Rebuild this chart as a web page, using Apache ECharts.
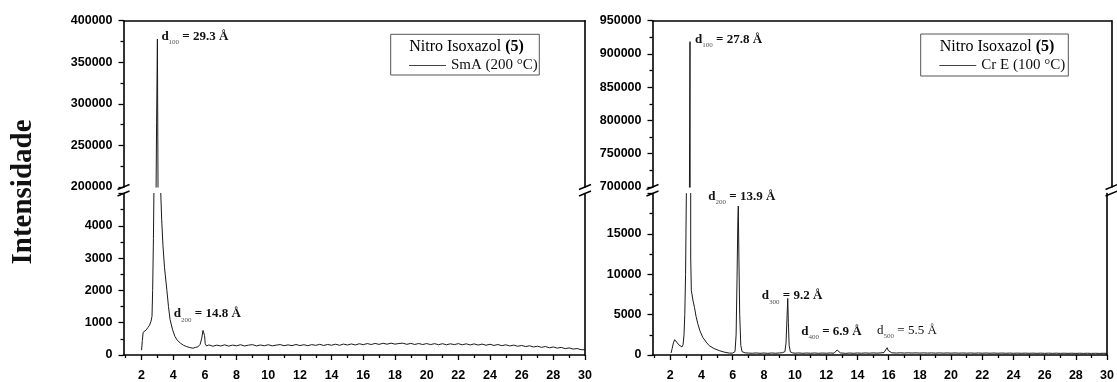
<!DOCTYPE html>
<html>
<head>
<meta charset="utf-8">
<title>Nitro Isoxazol (5) – XRD</title>
<script src="https://cdn.jsdelivr.net/npm/echarts@6/dist/echarts.min.js"></script>
<style>
  html, body { margin: 0; padding: 0; background: #fff; }
  #chart { width: 1117px; height: 382px; }
</style>
</head>
<body>
<div id="chart"></div>
<script>
// ---------------------------------------------------------------------------
// Data: X-ray diffraction patterns of Nitro Isoxazol (5), intensity vs 2θ (°)
// ---------------------------------------------------------------------------
const smaName = 'SmA (200 °C)';
const crName = 'Cr E (100 °C)';
const compoundName = 'Nitro Isoxazol ';
const compoundNumber = '(5)';
const yTitle = 'Intensidade';

const thetaMajorTicks = [2, 4, 6, 8, 10, 12, 14, 16, 18, 20, 22, 24, 26, 28, 30];
const thetaMinorTicks = [1, 3, 5, 7, 9, 11, 13, 15, 17, 19, 21, 23, 25, 27, 29];

// [2θ, intensity] – SmA phase at 200 °C
const smaPattern = [
  [2.00, 150], [2.05, 450], [2.10, 700], [2.20, 730], [2.30, 780], [2.40, 850],
  [2.50, 920], [2.60, 1050], [2.66, 1200], [2.70, 2000], [2.75, 3600], [2.80, 6000],
  [2.85, 30000], [2.95, 278000], [3.00, 378000], [3.05, 150000], [3.12, 20000],
  [3.20, 5200], [3.27, 4200], [3.35, 3400], [3.45, 2700], [3.60, 2000], [3.70, 1500],
  [3.80, 1100], [3.95, 800], [4.10, 580], [4.25, 460], [4.45, 370], [4.65, 300],
  [4.85, 260], [5.05, 230], [5.25, 210], [5.40, 235], [5.55, 250], [5.70, 330],
  [5.80, 520], [5.88, 760], [5.93, 820], [5.98, 600], [6.02, 350], [6.10, 280],
  [6.25, 312], [6.50, 272], [6.75, 305], [7.00, 280], [7.25, 315], [7.50, 276],
  [7.75, 306], [8.00, 284], [8.25, 318], [8.50, 279], [8.75, 304], [9.00, 322],
  [9.25, 282], [9.50, 310], [9.75, 286], [10.00, 318], [10.25, 283], [10.50, 306],
  [10.75, 322], [11.00, 288], [11.25, 313], [11.50, 290], [11.75, 325], [12.00, 292],
  [12.25, 318], [12.50, 288], [12.75, 322], [13.00, 298], [13.25, 330], [13.50, 295],
  [13.75, 326], [14.00, 302], [14.25, 334], [14.50, 300], [14.75, 338], [15.00, 310],
  [15.25, 342], [15.50, 312], [15.75, 348], [16.00, 320], [16.25, 354], [16.50, 325],
  [16.75, 358], [17.00, 328], [17.25, 364], [17.50, 334], [17.75, 368], [18.00, 336],
  [18.25, 356], [18.50, 366], [18.75, 330], [19.00, 360], [19.25, 326], [19.50, 356],
  [19.75, 324], [20.00, 354], [20.25, 322], [20.50, 352], [20.75, 318], [21.00, 350],
  [21.25, 316], [21.50, 346], [21.75, 322], [22.00, 352], [22.25, 316], [22.50, 346],
  [22.75, 312], [23.00, 344], [23.25, 308], [23.50, 338], [23.75, 302], [24.00, 332],
  [24.25, 296], [24.50, 324], [24.75, 288], [25.00, 316], [25.25, 280], [25.50, 306],
  [25.75, 270], [26.00, 296], [26.25, 260], [26.50, 286], [26.75, 248], [27.00, 272],
  [27.25, 238], [27.50, 262], [27.75, 224], [28.00, 248], [28.25, 212], [28.50, 236],
  [28.75, 196], [29.00, 220], [29.25, 182], [29.50, 200], [29.75, 166], [30.00, 160]
];

// [2θ, intensity] – Cr E phase at 100 °C
const crPattern = [
  [2.05, 250], [2.12, 800], [2.20, 1500], [2.28, 1900], [2.35, 1800], [2.45, 1500],
  [2.55, 1250], [2.65, 1100], [2.75, 1000], [2.82, 1300], [2.88, 2500], [2.93, 5000],
  [2.98, 10000], [3.03, 20000], [3.15, 350000], [3.24, 918500], [3.28, 150000],
  [3.31, 12000], [3.35, 8000], [3.45, 6800], [3.55, 5900], [3.65, 4800], [3.76, 3900],
  [3.90, 3000], [4.08, 2200], [4.30, 1600], [4.50, 1150], [4.80, 800], [5.14, 540],
  [5.45, 360], [5.80, 230], [6.00, 240], [6.15, 420], [6.22, 2500], [6.28, 9500],
  [6.33, 16500], [6.36, 18450], [6.40, 12000], [6.45, 5000], [6.52, 1200], [6.60, 420],
  [6.80, 260], [7.00, 240], [7.25, 215], [7.50, 255], [7.75, 210], [8.00, 245],
  [8.25, 205], [8.50, 250], [8.75, 215], [9.00, 255], [9.20, 290], [9.35, 420],
  [9.42, 1500], [9.48, 4500], [9.53, 7000], [9.57, 4000], [9.62, 1200], [9.70, 380],
  [9.85, 260], [10.00, 225], [10.25, 250], [10.50, 210], [10.75, 245], [11.00, 215],
  [11.25, 248], [11.50, 210], [11.75, 242], [12.00, 218], [12.25, 250], [12.50, 225],
  [12.60, 300], [12.70, 620], [12.78, 380], [12.90, 260], [13.00, 225], [13.25, 205],
  [13.50, 245], [13.75, 212], [14.00, 250], [14.25, 215], [14.50, 255], [14.75, 222],
  [15.00, 258], [15.25, 228], [15.50, 262], [15.70, 300], [15.82, 520], [15.90, 900],
  [15.97, 560], [16.05, 330], [16.20, 270], [16.50, 240], [16.75, 268], [17.00, 238],
  [17.25, 266], [17.50, 240], [17.75, 262], [18.00, 235], [18.25, 260], [18.50, 236],
  [18.75, 258], [19.00, 232], [19.25, 256], [19.50, 230], [19.75, 254], [20.00, 228],
  [20.25, 252], [20.50, 226], [20.75, 250], [21.00, 224], [21.25, 248], [21.50, 222],
  [21.75, 246], [22.00, 220], [22.25, 244], [22.50, 218], [22.75, 242], [23.00, 216],
  [23.25, 240], [23.50, 214], [23.75, 238], [24.00, 212], [24.25, 236], [24.50, 210],
  [24.75, 234], [25.00, 208], [25.25, 232], [25.50, 206], [25.75, 230], [26.00, 205],
  [26.25, 228], [26.50, 204], [26.75, 226], [27.00, 202], [27.25, 224], [27.50, 200],
  [27.75, 222], [28.00, 199], [28.25, 220], [28.50, 198], [28.75, 218], [29.00, 196],
  [29.25, 216], [29.50, 195], [29.75, 214], [30.00, 204]
];

// Indexed reflections: Miller index, d-spacing (Å), peak 2θ and peak intensity
const smaReflections = [
  { hkl: '100', spacing: '29.3', theta: 3.00, intensity: 378000, band: 'upper' },
  { hkl: '200', spacing: '14.8', theta: 5.93, intensity: 820, band: 'lower' }
];
const crReflections = [
  { hkl: '100', spacing: '27.8', theta: 3.24, intensity: 918500, band: 'upper' },
  { hkl: '200', spacing: '13.9', theta: 6.36, intensity: 18450, band: 'lower' },
  { hkl: '300', spacing: '9.2', theta: 9.53, intensity: 7000, band: 'lower' },
  { hkl: '400', spacing: '6.9', theta: 12.70, intensity: 620, band: 'lower' },
  { hkl: '500', spacing: '5.5', theta: 15.90, intensity: 900, band: 'lower' }
];

// ---------------------------------------------------------------------------
// Layout and styling
// ---------------------------------------------------------------------------
const SERIF = '"Liberation Serif", "Times New Roman", serif';
const SANS = '"Liberation Sans", Arial, sans-serif';
const X_MIN = 0.86;
const X_MAX = 30;
const UPPER_TOP = 20.7;
const UPPER_BOTTOM = 187;
const LOWER_TOP = 193.5;
const LOWER_BOTTOM = 355;
const AXIS_COLOR = '#000';
const AXIS_WIDTH = 1.6;

// pixel offsets of each peak label from its peak (label top-left)
const labelOffsets = {
  sma: { '100': [4, -9], '200': [-30, -21] },
  cr: { '100': [5, -9], '200': [-30, -16], '300': [-26, -9], '400': [-36, -25], '500': [-10, -24] }
};
const regularWeightLabels = { sma: {}, cr: { '500': true } };

const panels = [
  {
    key: 'sma', name: smaName, data: smaPattern, reflections: smaReflections,
    left: 123.5, width: 461.5,
    upper: { min: 200000, max: 400000, interval: 50000 },
    lower: { min: 0, max: 5000, interval: 1000 },
    legendBox: { x: 390.7, y: 34.3, w: 148.6, h: 40.7 },
    legendItem: { left: 409, top: 58 },
    titleX: 466.5
  },
  {
    key: 'cr', name: crName, data: crPattern, reflections: crReflections,
    left: 652.5, width: 459,
    upper: { min: 700000, max: 950000, interval: 50000 },
    lower: { min: 0, max: 20000, interval: 5000 },
    legendBox: { x: 920.7, y: 34, w: 147.6, h: 42 },
    legendItem: { left: 939.3, top: 58 },
    titleX: 997
  }
];

const axisLineStyle = { color: AXIS_COLOR, width: AXIS_WIDTH };
const tickLineStyle = { color: AXIS_COLOR, width: 1.3 };
const tickLabelStyle = {
  fontFamily: SANS, fontWeight: 'bold', fontSize: 12.5, color: '#000'
};

const grids = [];
const xAxes = [];
const yAxes = [];
const series = [];
const legends = [];
const graphics = [];

// d with a lowered Miller-index subscript, then " = x Å"
function peakLabelRich(bold) {
  const w = bold ? 'bold' : 'normal';
  return {
    d: { fontFamily: SERIF, fontWeight: w, fontSize: 13, lineHeight: 14, verticalAlign: 'top', color: '#111' },
    s: { fontFamily: SERIF, fontSize: 7, lineHeight: 16, verticalAlign: 'bottom', color: '#555' },
    v: { fontFamily: SERIF, fontWeight: w, fontSize: 13, lineHeight: 14, verticalAlign: 'top', color: '#111' }
  };
}

function markPointsFor(panel, band) {
  const items = panel.reflections
    .filter(r => r.band === band)
    .map(r => {
      const off = labelOffsets[panel.key][r.hkl];
      const bold = !regularWeightLabels[panel.key][r.hkl];
      return {
        coord: [r.theta, r.intensity],
        label: {
          show: true,
          position: 'inside',
          align: 'left',
          verticalAlign: 'top',
          offset: off,
          formatter: '{d|d}{s|' + r.hkl + '}{v| = ' + r.spacing + ' Å}',
          rich: peakLabelRich(bold)
        }
      };
    });
  return {
    silent: true,
    symbol: 'circle',
    symbolSize: 1,
    itemStyle: { color: 'rgba(0,0,0,0)' },
    data: items
  };
}

panels.forEach((p) => {
  const gUpper = grids.length;
  grids.push({ left: p.left, top: UPPER_TOP, width: p.width, height: UPPER_BOTTOM - UPPER_TOP });
  const gLower = grids.length;
  grids.push({ left: p.left, top: LOWER_TOP, width: p.width, height: LOWER_BOTTOM - LOWER_TOP });

  // x axes: top frame for the upper band, labelled axis + minor ticks for the lower band
  const xUpper = xAxes.length;
  xAxes.push({
    type: 'value', gridIndex: gUpper, min: X_MIN, max: X_MAX, position: 'top',
    axisLine: { show: true, onZero: false, lineStyle: axisLineStyle },
    axisTick: { show: false }, axisLabel: { show: false }, splitLine: { show: false }
  });
  const xLower = xAxes.length;
  xAxes.push({
    type: 'value', gridIndex: gLower, min: X_MIN, max: X_MAX, position: 'bottom',
    axisLine: { show: true, onZero: false, lineStyle: axisLineStyle },
    axisTick: { show: true, customValues: thetaMajorTicks, length: 5, lineStyle: tickLineStyle },
    axisLabel: Object.assign({ show: true, customValues: thetaMajorTicks, margin: 14 }, tickLabelStyle),
    splitLine: { show: false }
  });
  xAxes.push({
    type: 'value', gridIndex: gLower, min: X_MIN, max: X_MAX, position: 'bottom',
    axisLine: { show: false, onZero: false },
    axisTick: { show: true, customValues: thetaMinorTicks, length: 3, lineStyle: tickLineStyle },
    axisLabel: { show: false }, splitLine: { show: false }
  });

  function mainY(gridIndex, range, showMax) {
    return {
      type: 'value', gridIndex, position: 'left',
      min: range.min, max: range.max, interval: range.interval,
      axisLine: { show: true, onZero: false, lineStyle: axisLineStyle },
      axisTick: { show: true, length: 5, lineStyle: tickLineStyle },
      minorTick: { show: true, splitNumber: 2, length: 3, lineStyle: tickLineStyle },
      axisLabel: Object.assign({
        margin: 11, showMaxLabel: showMax, formatter: v => String(v)
      }, tickLabelStyle),
      splitLine: { show: false }, minorSplitLine: { show: false }
    };
  }
  function frameY(gridIndex, range) {
    return {
      type: 'value', gridIndex, position: 'right', min: range.min, max: range.max,
      axisLine: { show: true, onZero: false, lineStyle: axisLineStyle },
      axisTick: { show: false }, axisLabel: { show: false }, splitLine: { show: false }
    };
  }
  const yUpper = yAxes.length;
  yAxes.push(mainY(gUpper, p.upper, true));
  yAxes.push(frameY(gUpper, p.upper));
  const yLower = yAxes.length;
  yAxes.push(mainY(gLower, p.lower, false));
  yAxes.push(frameY(gLower, p.lower));

  const lineBase = {
    type: 'line', name: p.name, data: p.data, symbol: 'none', showSymbol: false,
    clip: true, animation: false,
    lineStyle: { color: '#1a1a1a', width: 1 }, itemStyle: { color: '#1a1a1a' }
  };
  series.push(Object.assign({}, lineBase, {
    xAxisIndex: xUpper, yAxisIndex: yUpper, markPoint: markPointsFor(p, 'upper')
  }));
  series.push(Object.assign({}, lineBase, {
    xAxisIndex: xLower, yAxisIndex: yLower, markPoint: markPointsFor(p, 'lower')
  }));

  legends.push({
    data: [p.name], left: p.legendItem.left, top: p.legendItem.top,
    orient: 'horizontal', padding: 0, itemWidth: 37, itemHeight: 1,
    icon: 'rect', selectedMode: false,
    itemStyle: { color: '#444', borderWidth: 0 },
    textStyle: { fontFamily: SERIF, fontSize: 15, color: '#111' }
  });

  // legend frame and sample title
  graphics.push({
    type: 'rect', silent: true,
    shape: { x: p.legendBox.x, y: p.legendBox.y, width: p.legendBox.w, height: p.legendBox.h },
    style: { fill: '#fff', stroke: '#555', lineWidth: 1 }, z: -1
  });
  graphics.push({
    type: 'text', silent: true, x: p.titleX, y: 46.7,
    style: {
      text: '{n|' + compoundName + '}{b|' + compoundNumber + '}',
      align: 'center', verticalAlign: 'middle',
      rich: {
        n: { fontFamily: SERIF, fontSize: 16, color: '#111' },
        b: { fontFamily: SERIF, fontSize: 16, fontWeight: 'bold', color: '#111' }
      }
    }
  });

  // axis-break marks on both sides of each panel
  [p.left, p.left + p.width].forEach(ax => {
    [UPPER_BOTTOM, LOWER_TOP].forEach(by => {
      graphics.push({
        type: 'line', silent: true,
        shape: { x1: ax - 6, y1: by + 2.5, x2: ax + 6, y2: by - 2.5 },
        style: { stroke: '#000', lineWidth: 1.4 }
      });
    });
  });
});

graphics.push({
  type: 'text', silent: true, x: 24, y: 192, rotation: Math.PI / 2,
  style: {
    text: yTitle, align: 'center', verticalAlign: 'middle',
    fontFamily: SERIF, fontWeight: 'bold', fontSize: 29, fill: '#111'
  }
});

const chart = echarts.init(document.getElementById('chart'), null, { renderer: 'canvas' });
chart.setOption({
  backgroundColor: '#fff',
  animation: false,
  grid: grids,
  xAxis: xAxes,
  yAxis: yAxes,
  legend: legends,
  series: series,
  graphic: graphics
});
</script>
</body>
</html>
